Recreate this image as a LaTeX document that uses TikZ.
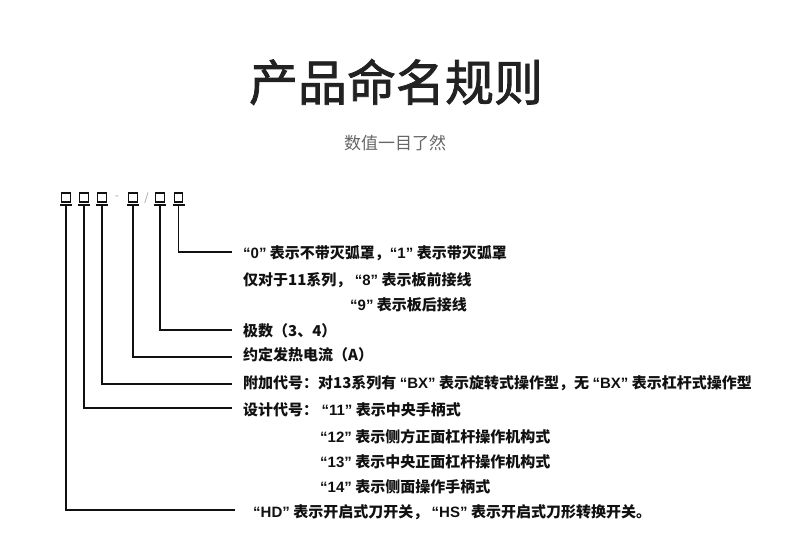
\documentclass[tikz,border=0pt]{standalone}
\usepackage{fontspec}
\setmainfont{Noto Sans CJK SC}
\newfontfamily\cjk{Noto Sans CJK SC}
\newfontfamily\titlefont{Noto Sans CJK SC}[FakeBold=1.6]
\newfontfamily\lat{Liberation Sans}
\newcommand\qt[1]{{\lat“#1”}}
\definecolor{titlec}{HTML}{222222}
\definecolor{subc}{HTML}{666666}
\definecolor{inkc}{HTML}{111111}
\definecolor{markc}{HTML}{999999}
\begin{document}
\begin{tikzpicture}[x=1pt,y=-1pt,
  codebox/.style={draw=inkc,line width=1.1pt,minimum width=8.5pt,minimum height=9pt,inner sep=0pt},
  bar/.style={draw=inkc,line width=1.3pt},
  conn/.style={draw=inkc,line width=1.3pt},
  lbl/.style={anchor=west,inner sep=0pt,text=inkc,font=\cjk\bfseries\fontsize{15}{17}\selectfont},
  sep/.style={inner sep=0pt,text=markc,font=\cjk\fontsize{11}{12}\selectfont}]
\useasboundingbox (0,0) rectangle (790,535);
\node[text=titlec,font=\titlefont\fontsize{49}{52}\selectfont,inner sep=0pt] (title) at (396,82) {产品命名规则};
\node[text=subc,font=\cjk\fontsize{17}{19}\selectfont,inner sep=0pt] (sub) at (395,143) {数值一目了然};
% code boxes
\foreach \n/\x in {1/66,2/84,3/102,4/133,5/160,6/178.5}{
  \node[codebox] (b\n) at (\x,197.5) {};
  \coordinate (u\n) at (\x,205);
  \draw[bar] ([xshift=-6pt]u\n) -- ([xshift=6pt]u\n);
}
\node[sep] (dash) at (117,198) {-};
\node[sep] (slash) at (146.5,198) {/};
% end points
\coordinate (e6) at (232,252);
\coordinate (e5) at (232,330);
\coordinate (e4) at (232,357);
\coordinate (e3) at (232,384);
\coordinate (e2) at (232,408);
\coordinate (e1) at (235,510);
\draw[conn] (u6) |- (e6);
\draw[conn] (u5) |- (e5);
\draw[conn] (u4) |- (e4);
\draw[conn] (u3) |- (e3);
\draw[conn] (u2) |- (e2);
\draw[conn] (u1) |- (e1);
% labels
\node[lbl] (t1) at (243,253) {\qt{0} 表示不带灭弧罩，\qt{1} 表示带灭弧罩};
\node[lbl] (t2) at (243,280) {仅对于11系列， \qt{8} 表示板前接线};
\node[lbl] (t3) at (350,305) {\qt{9} 表示板后接线};
\node[lbl] (t4) at (243,331) {极数（3、4）};
\node[lbl] (t5) at (243,355) {约定发热电流（A）};
\node[lbl] (t6) at (243,383) {附加代号：对13系列有 \qt{BX} 表示旋转式操作型，无 \qt{BX} 表示杠杆式操作型};
\node[lbl] (t7) at (243,410) {设计代号： \qt{11} 表示中央手柄式};
\node[lbl] (t8) at (320,437) {\qt{12} 表示侧方正面杠杆操作机构式};
\node[lbl] (t9) at (320,462) {\qt{13} 表示中央正面杠杆操作机构式};
\node[lbl] (t10) at (320,487) {\qt{14} 表示侧面操作手柄式};
\node[lbl] (t11) at (253,512) {\qt{HD} 表示开启式刀开关， \qt{HS} 表示开启式刀形转换开关。};
\end{tikzpicture}
\end{document}
